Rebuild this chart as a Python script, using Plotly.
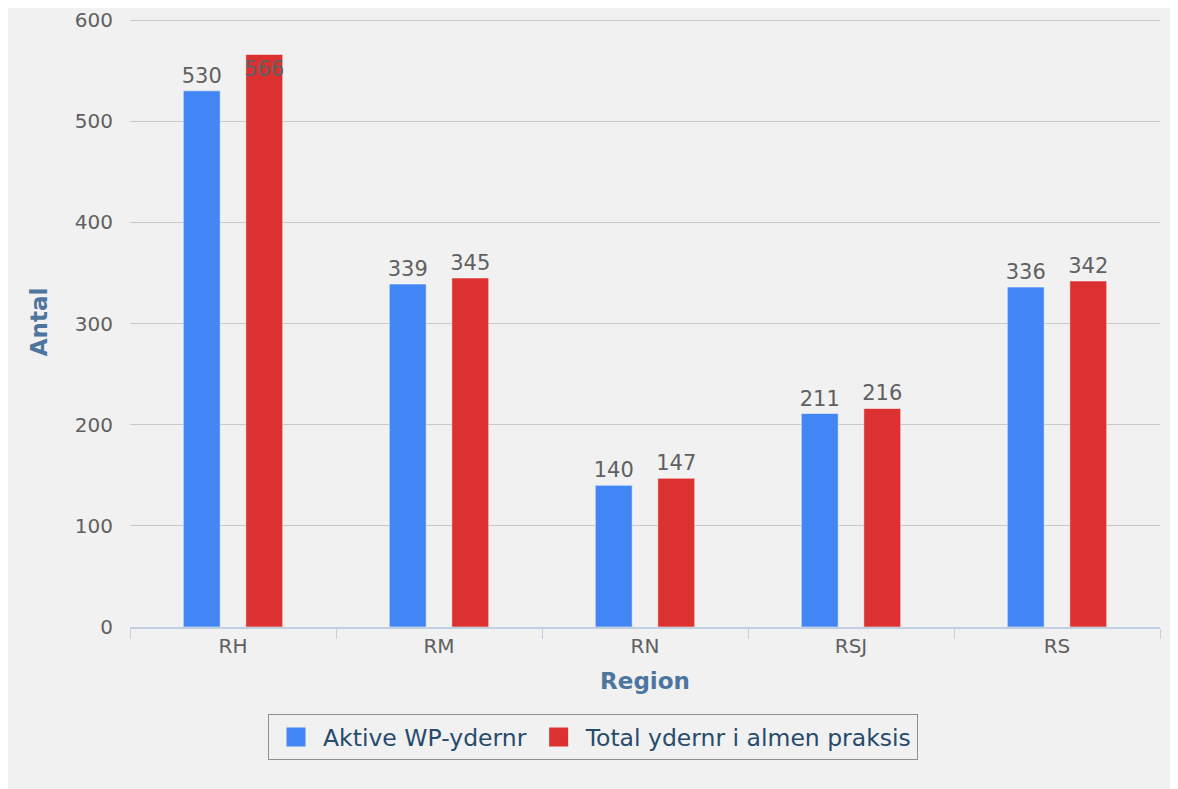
import plotly.graph_objects as go

regions = ["RH", "RM", "RN", "RSJ", "RS"]
aktive = [530, 339, 140, 211, 336]
total = [566, 345, 147, 216, 342]
series_names = ["Aktive WP-ydernr", "Total ydernr i almen praksis"]
colors = ["#4285f4", "#db3131"]
y_ticks = [0, 100, 200, 300, 400, 500, 600]

FONT = "DejaVu Sans"
label_font = dict(family=FONT, size=21, color="#606060")
title_font = dict(family=FONT, size=23, color="#4d759e")

fig = go.Figure()
fig.add_trace(go.Bar(
    x=regions, y=aktive, name=series_names[0], showlegend=False,
    marker=dict(color=colors[0], line=dict(color="#ffffff", width=0.5)),
    text=[str(v) for v in aktive], textposition="outside", textangle=0,
    textfont=label_font, cliponaxis=False, constraintext="none",
))
fig.add_trace(go.Bar(
    x=regions, y=total, name=series_names[1], showlegend=False,
    marker=dict(color=colors[1], line=dict(color="#ffffff", width=0.5)),
    text=[str(v) for v in total],
    textposition=["inside"] + ["outside"] * (len(total) - 1),
    insidetextanchor="end", textangle=0,
    textfont=label_font, insidetextfont=label_font, outsidetextfont=label_font,
    cliponaxis=False, constraintext="none",
))
for name, c in zip(series_names, colors):
    fig.add_trace(go.Scatter(
        x=[None], y=[None], mode="markers", name=name,
        marker=dict(symbol="square", size=22, color=c, line=dict(color=c, width=3)),
    ))

fig.update_layout(
    width=1170, height=781,
    barmode="group", bargap=0.393, bargroupgap=0.41,
    paper_bgcolor="#f1f1f1", plot_bgcolor="rgba(0,0,0,0)",
    margin=dict(l=122, r=18, t=9, b=162, autoexpand=False),
    font=dict(family=FONT, size=20, color="#606060"),
    showlegend=True,
    legend=dict(
        orientation="h", xref="container", x=0.5, xanchor="center",
        y=-0.143, yanchor="top",
        bgcolor="rgba(0,0,0,0)", bordercolor="#909090", borderwidth=1,
        font=dict(family=FONT, size=23.5, color="#274b6d"),
        itemwidth=44, tracegroupgap=0,
    ),
    xaxis=dict(
        title=dict(text="<b>Region</b>", font=title_font, standoff=16),
        automargin=False,
        showline=True, linecolor="#c0d0e0", linewidth=1.5,
        ticks="outside", tickson="boundaries", ticklen=10, tickcolor="#c0d0e0",
        tickfont=dict(family=FONT, size=20, color="#606060"),
        showgrid=False, range=[-0.5, 4.5],
    ),
    yaxis=dict(
        title=dict(text="<b>Antal</b>", font=title_font, standoff=20),
        automargin=False,
        range=[0, 603], tickvals=y_ticks,
        showgrid=True, gridcolor="#c8c8c8", gridwidth=1.2,
        zeroline=False, showline=False,
        tickfont=dict(family=FONT, size=20, color="#606060"),
        ticks="outside", ticklen=12, tickcolor="rgba(0,0,0,0)",
    ),
)

fig.write_html("out.html")
